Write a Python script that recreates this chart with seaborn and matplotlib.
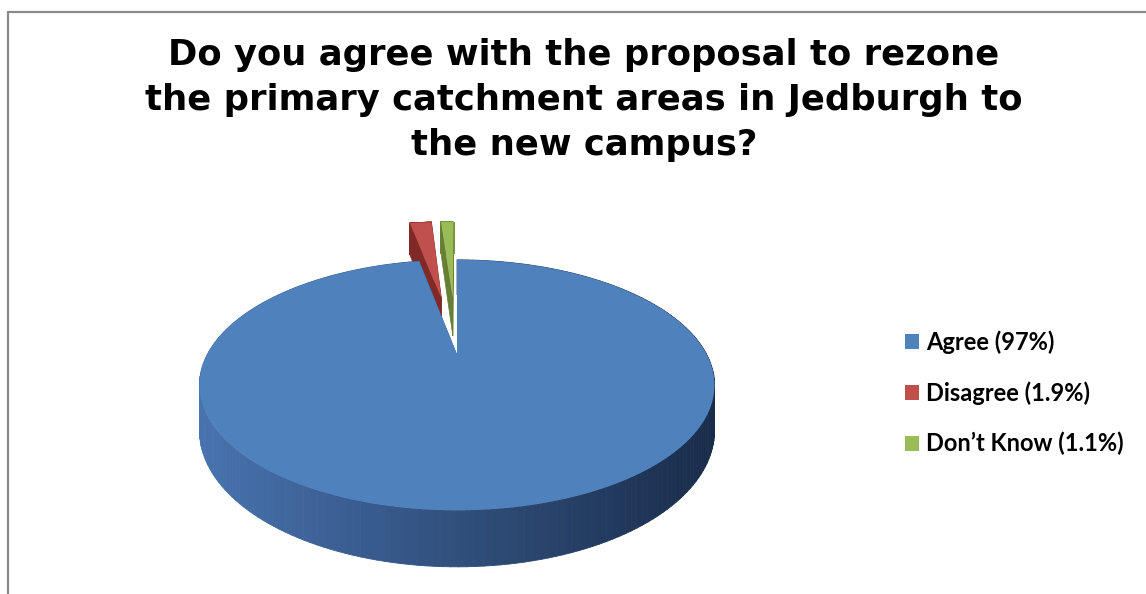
import numpy as np
import matplotlib
matplotlib.use("Agg")
import matplotlib.pyplot as plt
import seaborn as sns
from matplotlib.transforms import Transform, IdentityTransform
from matplotlib.path import Path
from matplotlib.collections import PolyCollection
from matplotlib.lines import Line2D

# ---------------- data ----------------
categories = ["Agree (97%)", "Disagree (1.9%)", "Don\u2019t Know (1.1%)"]
values = [97.0, 1.9, 1.1]
colors = ["#4F81BD", "#C0504D", "#9BBB59"]
side_left = [(72, 115, 175), (150, 48, 45), (120, 148, 62)]
side_right = [(25, 44, 74), (120, 35, 32), (95, 120, 45)]
explode = [0.0, 0.55, 0.55]
title = ("Do you agree with the proposal to rezone\n"
         "the primary catchment areas in Jedburgh to\n"
         "the new campus?")

W, H, DPI = 1146, 594, 100
sns.set_theme(style="white")
plt.rcParams["font.family"] = ["DejaVu Sans"]

fig = plt.figure(figsize=(W / DPI, H / DPI), dpi=DPI)
fig.patch.set_facecolor("white")
ax = fig.add_axes([0, 0, 1, 1])
ax.axis("off")

# perspective projection of the pie disk (pixel space, y from top)
CX, CY, A, B, K, DEPTH = 457, 355, 250, 118, 0.24, 43


def project(X, Y, dz=0.0):
    X = np.asarray(X, float)
    Y = np.asarray(Y, float)
    s = 1.0 / (1.0 + K * Y)
    px = CX + A * X * s
    py = CY - B * Y * s + dz * s
    return np.column_stack([px, H - py])


class Persp(Transform):
    input_dims = 2
    output_dims = 2

    def __init__(self, dz=0.0):
        super().__init__()
        self.dz = dz

    def transform_non_affine(self, values):
        v = np.asarray(values, float).reshape(-1, 2)
        return project(v[:, 0], v[:, 1], self.dz)

    def transform_path_non_affine(self, path):
        scaled = Path(path.vertices * 1000.0, path.codes)
        polys = scaled.to_polygons(closed_only=False)
        verts = np.concatenate(polys) / 1000.0
        return Path(self.transform_non_affine(verts))


wedges, _ = ax.pie(values, colors=colors, explode=explode, startangle=90,
                   counterclock=False,
                   wedgeprops=dict(linewidth=0, edgecolor="none"))
ax.set_aspect("auto")
ax.set_position([0, 0, 1, 1])

draw_order = [1, 2, 0]  # far slices first, the big one last
for rank, i in enumerate(draw_order):
    w = wedges[i]
    cx_, cy_ = w.center
    r = w.r
    lc = np.array(side_left[i]) / 255.0
    rc = np.array(side_right[i]) / 255.0

    def col(px):
        t = np.clip((px - 200.0) / (715.0 - 200.0), 0, 1)
        return lc * (1 - t) + rc * t

    # curved outer side
    th = np.radians(np.linspace(w.theta1, w.theta2, 240))
    X = cx_ + r * np.cos(th)
    Y = cy_ + r * np.sin(th)
    top = project(X, Y, 0.0)
    bot = project(X, Y, DEPTH)
    quads, fcs = [], []
    for j in range(len(th) - 1):
        quads.append([top[j], top[j + 1], bot[j + 1], bot[j]])
        fcs.append(col(0.5 * (top[j, 0] + top[j + 1, 0])))
    pc = PolyCollection(quads, facecolors=fcs, edgecolors=fcs, linewidths=0.6,
                        transform=IdentityTransform(), zorder=2 + 3 * rank)
    pc.set_clip_on(False)
    ax.add_collection(pc, autolim=False)

    # radial cut faces
    rq, rf = [], []
    for ang in (w.theta1, w.theta2):
        a = np.radians(ang)
        Xs = np.array([cx_, cx_ + r * np.cos(a)])
        Ys = np.array([cy_, cy_ + r * np.sin(a)])
        t0 = project(Xs, Ys, 0.0)
        t1 = project(Xs, Ys, DEPTH)
        rq.append([t0[0], t0[1], t1[1], t1[0]])
        rf.append(lc * 0.85)
    pr = PolyCollection(rq, facecolors=rf, edgecolors=rf, linewidths=0.5,
                        transform=IdentityTransform(), zorder=3 + 3 * rank)
    pr.set_clip_on(False)
    ax.add_collection(pr, autolim=False)

    # top face
    w.set_transform(Persp(0.0))
    w.set_zorder(4 + 3 * rank)
    w.set_clip_on(False)

# legend
leg = ax.legend(wedges, categories, loc="center left",
                bbox_to_anchor=(905 / W, 1 - 393 / H),
                bbox_transform=fig.transFigure,
                frameon=False,
                prop=dict(family="Lato", weight="bold", size=17),
                handlelength=0.6, handleheight=0.6, handletextpad=0.3,
                labelspacing=1.15, borderpad=0, borderaxespad=0)
for t in leg.get_texts():
    t.set_color("black")

# title
fig.text(584 / W, 1 - 38 / H, title, ha="center", va="top", fontsize=25.5,
         fontweight="bold", linespacing=1.4, color="black",
         family=["DejaVu Sans"])

# chart frame
fc = "#8a8a8a"
fig.add_artist(Line2D([7.5 / W, 7.5 / W], [0, 1 - 11.5 / H], color=fc, lw=1.6,
                      transform=fig.transFigure))
fig.add_artist(Line2D([7.5 / W, 1], [1 - 11.5 / H, 1 - 11.5 / H], color=fc, lw=1.6,
                      transform=fig.transFigure))

fig.savefig("out.png", dpi=DPI, facecolor="white")
